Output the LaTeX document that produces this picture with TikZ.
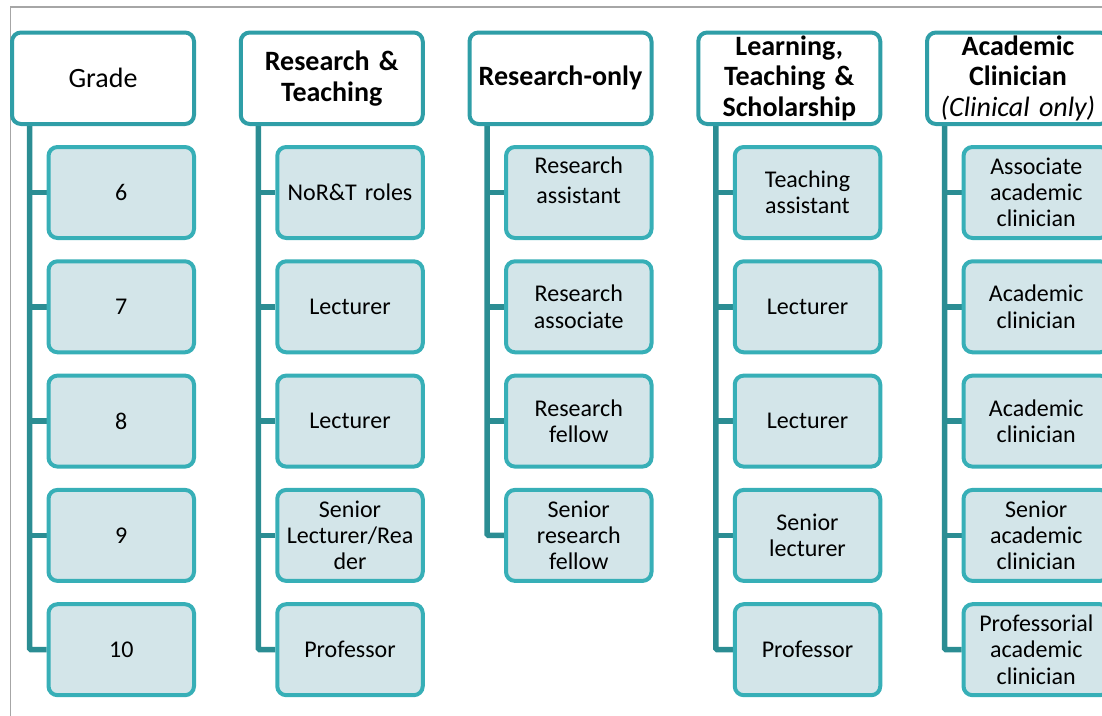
\documentclass[tikz,border=0pt]{standalone}
\usepackage{fontspec}
\setmainfont{Carlito}
\usetikzlibrary{backgrounds}
\definecolor{hdrline}{HTML}{2F9EA7}
\definecolor{kidline}{HTML}{37AFB7}
\definecolor{kidfill}{HTML}{D3E5E9}
\definecolor{connc}{HTML}{2B8D93}
\definecolor{framec}{HTML}{A6A6A6}
\begin{document}
\begin{tikzpicture}[x=1pt,y=-1pt,
  hdr/.style={draw=hdrline, line width=4pt, fill=white, rounded corners=9pt,
    minimum width=182pt, minimum height=91.5pt, inner sep=0pt, align=center,
    text width=182pt, font=\fontsize{28}{30.7}\selectfont\bfseries},
  kid/.style={draw=kidline, line width=4pt, fill=kidfill, rounded corners=9pt,
    minimum width=145.5pt, minimum height=91pt, inner sep=0pt, align=center,
    text width=145.5pt, font=\fontsize{24}{26.3}\selectfont},
  conn/.style={draw=connc, line width=5.5pt, rounded corners=1.5pt},
  framel/.style={draw=framec, line width=1.5pt}]
\useasboundingbox (0,0) rectangle (1102,715);
\clip (0,0) rectangle (1102,715);
\draw[framel] (10.5,800) -- (10.5,7) -- (1200,7);

% column 1
\node[hdr, font=\fontsize{28}{30.7}\selectfont] (h1) at (103,78.25) {Grade};
\node[kid] (c11) at (121.25,192.5) {6};
\node[kid] (c12) at (121.25,306.8) {7};
\node[kid] (c13) at (121.25,421.1) {8};
\node[kid] (c14) at (121.25,535.4) {9};
\node[kid] (c15) at (121.25,649.7) {10};
\coordinate (v1) at (29.5,100);

% column 2
\node[hdr] (h2) at (331.75,78.25) {Research \&\\Teaching};
\node[kid] (c21) at (350,192.5) {NoR\&T roles};
\node[kid] (c22) at (350,306.8) {Lecturer};
\node[kid] (c23) at (350,421.1) {Lecturer};
\node[kid] (c24) at (350,535.4) {Senior\\Lecturer/Rea\\der};
\node[kid] (c25) at (350,649.7) {Professor};
\coordinate (v2) at (258.25,100);

% column 3
\node[hdr] (h3) at (560.5,78.25) {Research-only};
\node[kid] (c31) at (578.75,192.5) {};
\node[font=\fontsize{24}{30}\selectfont, align=center, inner sep=0pt] (t31) at ([yshift=12pt]c31.center) {Research\\assistant};
\node[kid] (c32) at (578.75,306.8) {Research\\associate};
\node[kid] (c33) at (578.75,421.1) {Research\\fellow};
\node[kid] (c34) at (578.75,535.4) {Senior\\research\\fellow};
\coordinate (v3) at (487,100);

% column 4
\node[hdr] (h4) at (789.25,78.25) {Learning,\\Teaching \&\\Scholarship};
\node[kid] (c41) at (807.5,192.5) {Teaching\\assistant};
\node[kid] (c42) at (807.5,306.8) {Lecturer};
\node[kid] (c43) at (807.5,421.1) {Lecturer};
\node[kid] (c44) at (807.5,535.4) {Senior\\lecturer};
\node[kid] (c45) at (807.5,649.7) {Professor};
\coordinate (v4) at (715.75,100);

% column 5
\node[hdr] (h5) at (1018,78.25) {Academic\\Clinician\\{\mdseries\itshape (Clinical only)}};
\node[kid] (c51) at (1036.25,192.5) {Associate\\academic\\clinician};
\node[kid] (c52) at (1036.25,306.8) {Academic\\clinician};
\node[kid] (c53) at (1036.25,421.1) {Academic\\clinician};
\node[kid] (c54) at (1036.25,535.4) {Senior\\academic\\clinician};
\node[kid] (c55) at (1036.25,649.7) {Professorial\\academic\\clinician};
\coordinate (v5) at (944.5,100);

\begin{scope}[on background layer]
  \foreach \c in {1,2,4,5} {
    \draw[conn] (h\c.south -| v\c) |- (c\c5.west);
    \foreach \r in {1,2,3,4} \draw[conn] (c\c\r.west) -- (c\c\r.west -| v\c);
  }
  \draw[conn] (h3.south -| v3) |- (c34.west);
  \foreach \r in {1,2,3} \draw[conn] (c3\r.west) -- (c3\r.west -| v3);
\end{scope}
\end{tikzpicture}
\end{document}
